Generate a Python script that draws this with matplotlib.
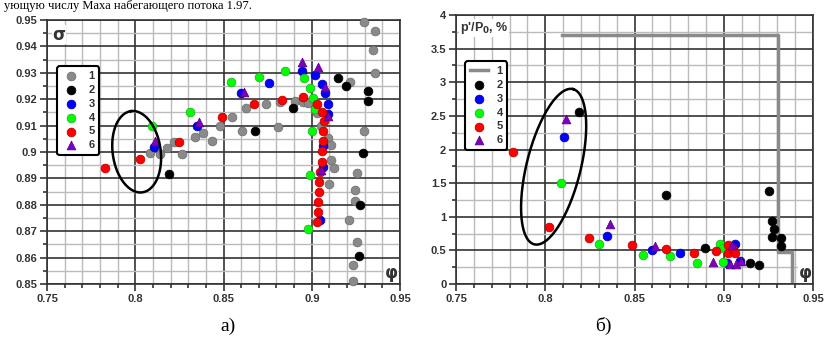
import numpy as np
import matplotlib.pyplot as plt
from matplotlib.lines import Line2D

# ---- data, left chart (a): sigma vs phi ----
s1_phi = [0.9296, 0.9358, 0.9345, 0.9358, 0.9217, 0.9296, 0.9259, 0.9245, 0.9245, 0.9213,
          0.9255, 0.9236, 0.9236, 0.9094, 0.9108, 0.9110, 0.9126, 0.9100, 0.9019,
          0.8085, 0.8138, 0.8180, 0.8220, 0.8264, 0.8340, 0.8383, 0.8434, 0.8480, 0.8550,
          0.8604, 0.8628, 0.8742, 0.8806, 0.8820, 0.8906, 0.8950, 0.8980, 0.9028, 0.9050]
s1_sig = [0.9494, 0.9460, 0.9387, 0.9298, 0.9267, 0.9078, 0.8922, 0.8857, 0.8813, 0.8743,
          0.8659, 0.8573, 0.8510, 0.9052, 0.9027, 0.8970, 0.8939, 0.8880, 0.9160,
          0.8998, 0.8993, 0.9014, 0.9036, 0.8993, 0.9056, 0.9071, 0.9040, 0.9100, 0.9134,
          0.9078, 0.9166, 0.9181, 0.9096, 0.9191, 0.9195, 0.9190, 0.9185, 0.9147, 0.9100]
s2_phi = [0.8194, 0.8679, 0.8892, 0.9151, 0.9194, 0.9321, 0.9321, 0.9289, 0.9274, 0.9270]
s2_sig = [0.8917, 0.9078, 0.9166, 0.9279, 0.9250, 0.9231, 0.9195, 0.8998, 0.8800, 0.8605]
s3_phi = [0.8109, 0.8349, 0.8598, 0.8758, 0.8945, 0.9021, 0.9057, 0.9075, 0.9091, 0.9094,
          0.9062, 0.9062, 0.9047]
s3_sig = [0.9018, 0.9099, 0.9223, 0.9263, 0.9305, 0.9292, 0.9258, 0.9223, 0.9182, 0.9144,
          0.9021, 0.8943, 0.8743]
s4_phi = [0.8094, 0.8308, 0.8545, 0.8702, 0.8849, 0.8955, 0.8991, 0.9009, 0.9019, 0.9004,
          0.8991, 0.8981]
s4_sig = [0.9099, 0.9153, 0.9264, 0.9283, 0.9307, 0.9279, 0.9241, 0.9204, 0.9162, 0.9078,
          0.8914, 0.8708]
s5_phi = [0.7830, 0.8028, 0.8249, 0.8489, 0.8675, 0.8830, 0.8953, 0.9032, 0.9057, 0.9070,
          0.9062, 0.9062, 0.9057, 0.9057, 0.9047, 0.9043, 0.9043, 0.9038, 0.9038, 0.9032]
s5_sig = [0.8941, 0.8973, 0.9036, 0.9132, 0.9182, 0.9197, 0.9207, 0.9182, 0.9153, 0.9119,
          0.9078, 0.9040, 0.9002, 0.8964, 0.8926, 0.8888, 0.8847, 0.8809, 0.8771, 0.8733]
s6_phi = [0.8113, 0.8364, 0.8617, 0.8943, 0.9034, 0.9075, 0.9094, 0.9051]
s6_sig = [0.9040, 0.9115, 0.9229, 0.9342, 0.9321, 0.9245, 0.9137, 0.8930]

# ---- data, right chart (b): p'/P0 vs phi ----
b1_phi = [0.8093, 0.9304, 0.9304, 0.9384, 0.9384]
b1_p = [3.71, 3.71, 0.48, 0.48, 0.0]
b2_phi = [0.8190, 0.8676, 0.9254, 0.9271, 0.9280, 0.9273, 0.9318, 0.9318, 0.8894, 0.9146, 0.9196]
b2_p = [2.563, 1.330, 1.388, 0.941, 0.813, 0.694, 0.679, 0.565, 0.530, 0.317, 0.283]
b3_phi = [0.8106, 0.8344, 0.8598, 0.8756, 0.9062, 0.9019, 0.9090, 0.9050]
b3_p = [2.191, 0.719, 0.510, 0.456, 0.590, 0.317, 0.342, 0.560]
b4_phi = [0.8087, 0.8303, 0.8546, 0.8700, 0.8848, 0.8978, 0.8997, 0.8997]
b4_p = [1.497, 0.595, 0.431, 0.416, 0.317, 0.595, 0.530, 0.332]
b5_phi = [0.7822, 0.8022, 0.8246, 0.8488, 0.8676, 0.8831, 0.8955, 0.9025, 0.9053, 0.9062, 0.9025]
b5_p = [1.958, 0.853, 0.679, 0.580, 0.515, 0.468, 0.496, 0.466, 0.515, 0.456, 0.580]
b6_phi = [0.8115, 0.8363, 0.8615, 0.8941, 0.9034, 0.9049, 0.9071, 0.9099]
b6_p = [2.449, 0.892, 0.565, 0.322, 0.297, 0.580, 0.297, 0.347]

labels = ['1', '2', '3', '4', '5', '6']
colors = ['#8a8a8a', '#000000', '#0000ff', '#00ff00', '#ff0000', '#8000c0']
edges = ['#6a6a6a', '#000000', '#0000a0', '#30a030', '#b00000', '#500080']

W, H = 827, 340
fig = plt.figure(figsize=(W / 100, H / 100), dpi=100)
axL = fig.add_axes([47 / W, 1 - 284 / H, 353 / W, 264 / H])
axR = fig.add_axes([456 / W, 1 - 284 / H, 357 / W, 269 / H])


def style_axes(ax, ylim, ymaj, ymin, yfmt):
    ax.set_xlim(0.75, 0.95)
    ax.set_ylim(*ylim)
    ax.set_xticks(np.arange(0.75, 0.951, 0.05))
    ax.set_xticks(np.arange(0.75, 0.951, 0.01), minor=True)
    ax.set_yticks(np.arange(ylim[0], ylim[1] + 1e-9, ymaj))
    ax.set_yticks(np.arange(ylim[0], ylim[1] + 1e-9, ymin), minor=True)
    ax.set_xticklabels(['0.75', '0.8', '0.85', '0.9', '0.95'])
    ax.set_yticklabels(yfmt)
    ax.grid(which='major', color='#333333', lw=1.2, zorder=0)
    ax.grid(which='minor', color='#bbbbbb', lw=1.0, zorder=0)
    ax.set_axisbelow(True)
    for s in ax.spines.values():
        s.set_color('#333333')
        s.set_linewidth(1.2)
    ax.tick_params(which='major', length=5, width=1.2, color='#333333', pad=2)
    ax.tick_params(which='minor', length=3, width=1.2, color='#333333')
    for t in ax.get_xticklabels() + ax.get_yticklabels():
        t.set_fontsize(8)
        t.set_fontweight('bold')
        t.set_color('#333333')
        t.set_family('Liberation Sans')


def ellipse(ax, cx, cy, a, b, ang):
    # a, b in pixels, angle of major axis in degrees
    pos = ax.get_position()
    sx = W * pos.width / (ax.get_xlim()[1] - ax.get_xlim()[0])
    sy = H * pos.height / (ax.get_ylim()[1] - ax.get_ylim()[0])
    t = np.linspace(0, 2 * np.pi, 200)
    th = np.radians(ang)
    px = a * np.cos(t) * np.cos(th) - b * np.sin(t) * np.sin(th)
    py = a * np.cos(t) * np.sin(th) + b * np.sin(t) * np.cos(th)
    ax.plot(cx + px / sx, cy + py / sy, color='black', lw=1.8, zorder=5)


style_axes(axL, (0.85, 0.95), 0.01, 0.005,
           ['0.85', '0.86', '0.87', '0.88', '0.89', '0.9', '0.91', '0.92', '0.93', '0.94', '0.95'])
style_axes(axR, (0.0, 4.0), 0.5, 0.25,
           ['0', '0.5', '1', '1.5', '2', '2.5', '3', '3.5', '4'])

ms = 40
left = [(s1_phi, s1_sig), (s2_phi, s2_sig), (s3_phi, s3_sig),
        (s4_phi, s4_sig), (s5_phi, s5_sig), (s6_phi, s6_sig)]
order = [0, 1, 3, 4, 2, 5]
handlesL = {}
for i in order:
    x, y = left[i]
    mk = '^' if i == 5 else 'o'
    handlesL[i] = axL.scatter(x, y, s=ms, marker=mk, c=colors[i], edgecolors=edges[i],
                              linewidths=0.5, zorder=3 + i * 0.1, label=labels[i], clip_on=False)

right = [None, (b2_phi, b2_p), (b3_phi, b3_p), (b4_phi, b4_p), (b5_phi, b5_p), (b6_phi, b6_p)]
handlesR = {}
handlesR[0], = axR.plot(b1_phi, b1_p, color='#8a8a8a', lw=2.5, zorder=2, label=labels[0])
for i in order[1:]:
    x, y = right[i]
    mk = '^' if i == 5 else 'o'
    handlesR[i] = axR.scatter(x, y, s=ms, marker=mk, c=colors[i], edgecolors=edges[i],
                              linewidths=0.5, zorder=3 + i * 0.1, label=labels[i])

ellipse(axL, 0.8008, 0.9001, 41, 24, 98)
ellipse(axR, 0.8047, 1.744, 80, 27, 76)

legkw = dict(loc='upper left', frameon=True, fancybox=True, borderpad=0.4,
             labelspacing=0.35, handletextpad=0.8, handlelength=1.6, markerscale=1.0,
             prop={'weight': 'bold', 'size': 8, 'family': 'Liberation Sans'})
lgL = axL.legend([handlesL[i] for i in range(6)], labels,
                 bbox_to_anchor=(0.014, 0.845), **legkw)
lgR = axR.legend([handlesR[i] for i in range(6)], labels,
                 bbox_to_anchor=(0.011, 0.848), **legkw)
for lg in (lgL, lgR):
    lg.get_frame().set_edgecolor('black')
    lg.get_frame().set_linewidth(1.5)
    lg.get_frame().set_alpha(1)
    for t in lg.get_texts():
        t.set_color('#333333')
    lg.set_zorder(6)

axL.text(0.015, 0.945, 'σ', transform=axL.transAxes, fontsize=12, fontweight='bold',
         ha='left', va='center', color='#333333', zorder=7,
         bbox=dict(fc='white', ec='none', pad=0.5))
axL.text(0.975, 0.04, 'φ', transform=axL.transAxes, fontsize=12, fontweight='bold',
         ha='center', va='center', color='#333333', zorder=7,
         bbox=dict(fc='white', ec='none', pad=0.5))
axR.text(0.011, 0.952, "p'/P$_\\mathbf{0}$, %", transform=axR.transAxes, fontsize=9,
         fontweight='bold', ha='left', va='center', color='#333333', zorder=7,
         family='Liberation Sans', bbox=dict(fc='white', ec='none', pad=0.5))
axR.text(0.978, 0.04, 'φ', transform=axR.transAxes, fontsize=12, fontweight='bold',
         ha='center', va='center', color='#333333', zorder=7,
         bbox=dict(fc='white', ec='none', pad=0.5))

fig.text(228 / W, 1 - 326 / H, 'а)', fontsize=14, family='Liberation Serif',
         ha='center', va='center')
fig.text(603 / W, 1 - 326 / H, 'б)', fontsize=14, family='Liberation Serif',
         ha='center', va='center')
fig.text(0.005, 0.999, 'ующую числу Маха набегающего потока 1.97.', fontsize=9,
         family='Liberation Serif', ha='left', va='top')

fig.savefig('out.png', dpi=100)
